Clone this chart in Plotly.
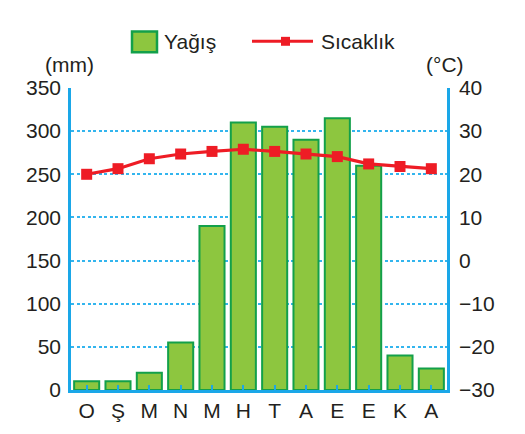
import plotly.graph_objects as go

months = ["O", "Ş", "M", "N", "M", "H", "T", "A", "E", "E", "K", "A"]
rain_mm = [10, 10, 20, 55, 190, 310, 305, 290, 315, 260, 40, 25]
temp_c = [20.0, 21.3, 23.6, 24.7, 25.3, 25.8, 25.3, 24.7, 24.1, 22.4, 21.8, 21.3]
rain_ticks = [0, 50, 100, 150, 200, 250, 300, 350]
temp_ticks = [-30, -20, -10, 0, 10, 20, 30, 40]

xs = list(range(len(months)))
blue = "#1aa7e8"
green_fill = "#8dc63f"
green_line = "#13a04a"
red = "#ee1c25"
font = "Liberation Sans, Arial, sans-serif"
FS = 21

W, H = 517, 426
L, R, T, B = 63, 78, 80, 42
PW, PH = W - L - R, H - T - B


def px(x):
    return (x - L) / PW


def py(y):
    return (H - B - y) / PH


fig = go.Figure()
fig.add_trace(go.Bar(
    x=xs, y=rain_mm, name="Yağış",
    marker=dict(color=green_fill, line=dict(color=green_line, width=2)),
    width=0.8,
))
fig.add_trace(go.Scatter(
    x=xs, y=temp_c, name="Sıcaklık", yaxis="y2", mode="lines+markers",
    line=dict(color=red, width=3.2),
    marker=dict(symbol="square", size=11, color=red),
))

shapes = [
    # legend: bar swatch
    dict(type="rect", xref="paper", yref="paper",
         x0=px(124), x1=px(149), y0=py(44), y1=py(23),
         fillcolor=green_fill, line=dict(color=green_line, width=2.5)),
    # legend: line swatch
    dict(type="line", xref="paper", yref="paper",
         x0=px(244), x1=px(305), y0=py(33), y1=py(33),
         line=dict(color=red, width=3)),
    dict(type="rect", xref="paper", yref="paper",
         x0=px(273), x1=px(282), y0=py(37.5), y1=py(28.5),
         fillcolor=red, line=dict(color=red, width=0)),
]

annotations = [
    dict(text="Yağış", xref="paper", yref="paper", x=px(154), y=py(33),
         xanchor="left", yanchor="middle", showarrow=False, font=dict(size=FS)),
    dict(text="Sıcaklık", xref="paper", yref="paper", x=px(311), y=py(33),
         xanchor="left", yanchor="middle", showarrow=False, font=dict(size=FS)),
    dict(text="(mm)", xref="paper", yref="paper", x=px(61), y=py(56),
         xanchor="center", yanchor="middle", showarrow=False, font=dict(size=FS)),
    dict(text="(°C)", xref="paper", yref="paper", x=px(437), y=py(56),
         xanchor="center", yanchor="middle", showarrow=False, font=dict(size=FS)),
]

fig.update_layout(
    width=W, height=H,
    margin=dict(l=L, r=R, t=T, b=B),
    paper_bgcolor="white", plot_bgcolor="white",
    font=dict(family=font, size=FS, color="#231f20"),
    showlegend=False,
    bargap=0.2,
    shapes=shapes,
    annotations=annotations,
    xaxis=dict(
        range=[-0.5, 11.5], tickmode="array", tickvals=xs, ticktext=months,
        showline=True, linecolor=blue, linewidth=2.5,
        ticks="inside", tickson="boundaries", ticklen=5, tickcolor=blue, tickwidth=1.5,
        showgrid=False, zeroline=False, tickfont=dict(size=FS),
    ),
    yaxis=dict(
        range=[0, 350], tickmode="array", tickvals=rain_ticks,
        showline=True, linecolor=blue, linewidth=2.5,
        showgrid=True, gridcolor="#33b5ee", griddash="3px,2.5px", gridwidth=1.5,
        zeroline=False, ticks="", tickfont=dict(size=FS), ticklabelstandoff=3,
    ),
    yaxis2=dict(
        range=[-30, 40], tickmode="array", tickvals=temp_ticks,
        overlaying="y", side="right",
        showline=True, linecolor=blue, linewidth=2.5,
        showgrid=False, zeroline=False, ticks="", tickfont=dict(size=FS),
        ticklabelstandoff=5,
    ),
)

fig.write_html("out.html")
